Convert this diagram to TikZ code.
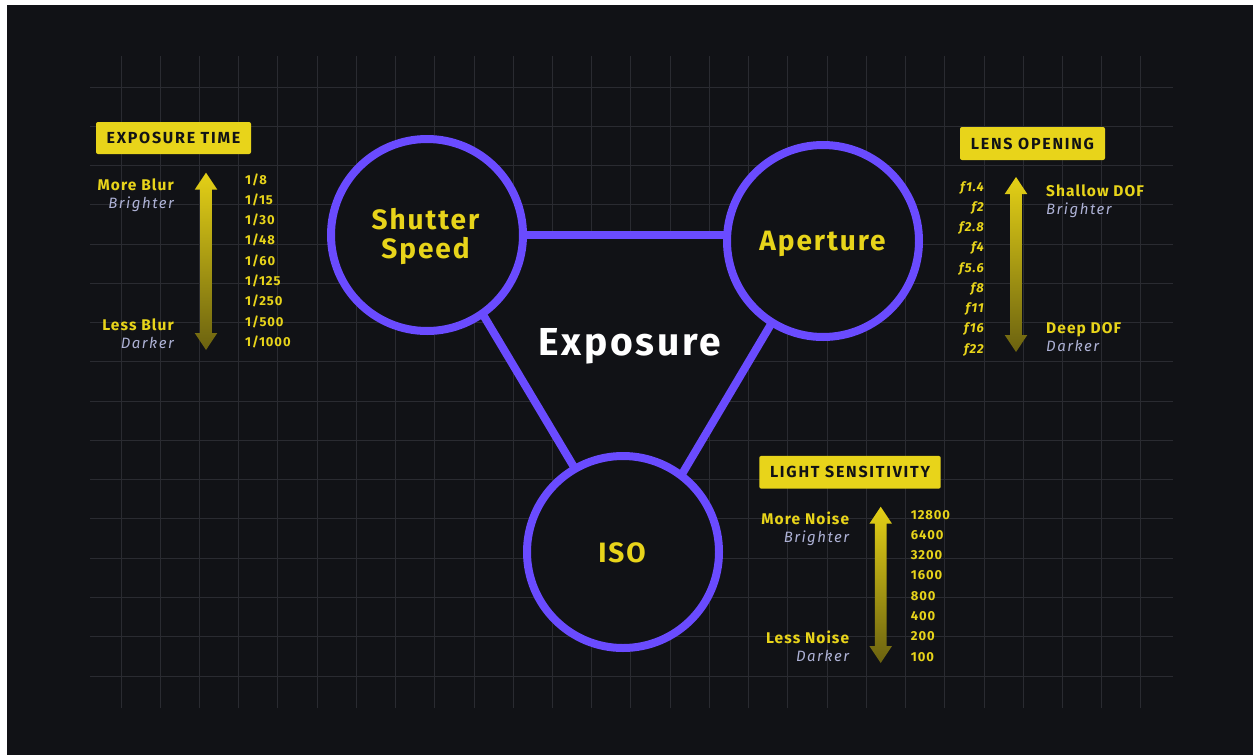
\documentclass[tikz,border=0pt]{standalone}
\usepackage{fontspec}
\setmainfont{Fira Sans}
\newfontfamily\trk[LetterSpace=7]{Fira Sans}
\newfontfamily\trki[LetterSpace=10]{Fira Sans}
\newfontfamily\trkw[LetterSpace=11]{Fira Sans}
\definecolor{bg}{HTML}{111216}
\definecolor{gridc}{HTML}{2A2B31}
\definecolor{ylw}{HTML}{E8D41A}
\definecolor{prp}{HTML}{6A4BFF}
\definecolor{lav}{HTML}{AEB2D6}
\definecolor{arrtop}{HTML}{E4D016}
\definecolor{arrbot}{HTML}{6B6210}
\newcommand\yarrow[3]{%
  \shade[top color=arrtop,bottom color=arrbot]
    (#1,#2) -- ({#1+11.3},{#2+17}) -- ({#1+5.8},{#2+17}) -- ({#1+5.8},{#3-17})
    -- ({#1+11.3},{#3-17}) -- (#1,#3) -- ({#1-11.3},{#3-17}) -- ({#1-5.8},{#3-17})
    -- ({#1-5.8},{#2+17}) -- ({#1-11.3},{#2+17}) -- cycle;}
\begin{document}
\begin{tikzpicture}[x=1pt,y=-1pt,
  gridline/.style={draw=gridc,line width=1pt},
  ring/.style={circle,draw=prp,fill=bg,line width=8pt,minimum size=192pt,inner sep=0pt},
  conn/.style={draw=prp,line width=8pt,shorten <=-6pt,shorten >=-6pt},
  big/.style={inner sep=0pt,text=ylw,font=\trk\bfseries\fontsize{28}{30}\selectfont,align=center},
  lab/.style={inner sep=0pt,text=ylw,font=\trk\bfseries\fontsize{15.5}{18}\selectfont},
  sub/.style={inner sep=0pt,text=lav,font=\trki\itshape\fontsize{15}{18}\selectfont},
  val/.style={inner sep=0pt,text=ylw,font=\trk\bfseries\fontsize{13}{15}\selectfont},
  tag/.style={fill=ylw,rounded corners=2pt,inner sep=0pt,text=bg,font=\trkw\bfseries\fontsize{16}{18}\selectfont}]
\useasboundingbox (0,0) rectangle (1253,755);
\fill[white] (0,0) rectangle (1253,755);
\fill[bg] (7,5) rectangle (1253,755);
% grid
\foreach \k in {0,...,15} \draw[gridline] (90,{87+39.27*\k}) -- (1173,{87+39.27*\k});
\foreach \k in {0,...,26} \draw[gridline] ({121+39.23*\k},56) -- ({121+39.23*\k},708);
% circle positions
\coordinate (cS) at (427,235);
\coordinate (cA) at (823,241);
\coordinate (cI) at (623,552);
\node[ring,draw=none,fill=none] (S) at (cS) {};
\node[ring,draw=none,fill=none] (A) at (cA) {};
\node[ring,draw=none,fill=none] (I) at (cI) {};
% triangle mask
\fill[bg] (S.center) -- (S.east) -- (A.west |- S.east) -- (A.center) -- (A.238) -- (I.53) -- (I.center) -- (I.120) -- (S.-55) -- cycle;
% connectors
\draw[conn] (S.east) -- (A.west |- S.east);
\draw[conn] (S.-55) -- (I.120);
\draw[conn] (A.238) -- (I.53);
% circles
\node[ring] (S2) at (cS) {};
\node[ring] (A2) at (cA) {};
\node[ring] (I2) at (cI) {};
\node[big,anchor=base] (tS1) at (425.5,229) {Shutter};
\node[big,anchor=base] (tS2) at (425.5,258) {Speed};
\node[big,anchor=base] (tA) at (822.5,250) {Aperture};
\node[big,anchor=base] (tI) at (622,562) {ISO};
\node[inner sep=0pt,text=white,font=\trk\bfseries\fontsize{39}{42}\selectfont,anchor=base] (ex) at (629.5,355) {Exposure};
% left panel
\node[tag,minimum width=155pt,minimum height=32pt] (t1) at (173.5,138) {EXPOSURE TIME};
\yarrow{206}{172.7}{350}
\node[lab,anchor=base east] (mb) at (174,190.7) {More Blur};
\node[sub,anchor=base east] (b1) at (174,208.7) {Brighter};
\node[lab,anchor=base east] (lb) at (174,330.7) {Less Blur};
\node[sub,anchor=base east] (d1) at (174,348) {Darker};
\foreach \t [count=\i from 0] in {1/8,1/15,1/30,1/48,1/60,1/125,1/250,1/500,1/1000}
  \node[val,anchor=base west] (ts\i) at (245,{184+20.33*\i}) {\t};
% right panel
\node[tag,minimum width=145pt,minimum height=33pt] (t2) at (1032.5,143.5) {LENS OPENING};
\yarrow{1016}{177}{352}
\foreach \t [count=\i from 0] in {f1.4,f2,f2.8,f4,f5.6,f8,f11,f16,f22}
  \node[val,font=\trk\bfseries\itshape\fontsize{13}{15}\selectfont,anchor=base east] (fa\i) at (984,{191+20.25*\i}) {\t};
\node[lab,anchor=base west] (sd) at (1046,196) {Shallow DOF};
\node[sub,anchor=base west] (b2) at (1046,214) {Brighter};
\node[lab,anchor=base west] (dd) at (1046,333.3) {Deep DOF};
\node[sub,anchor=base west] (d2) at (1046,351) {Darker};
% bottom panel
\node[tag,minimum width=181.4pt,minimum height=32.7pt] (t3) at (850,472.3) {LIGHT SENSITIVITY};
\yarrow{880.7}{506.7}{663}
\node[lab,anchor=base east] (mn) at (849.3,524) {More Noise};
\node[sub,anchor=base east] (b3) at (849.3,542.3) {Brighter};
\node[lab,anchor=base east] (ln) at (849.3,643.3) {Less Noise};
\node[sub,anchor=base east] (d3) at (849.3,661.3) {Darker};
\foreach \t [count=\i from 0] in {12800,6400,3200,1600,800,400,200,100}
  \node[val,anchor=base west] (is\i) at (910.7,{519+20.3*\i}) {\t};
\end{tikzpicture}
\end{document}
